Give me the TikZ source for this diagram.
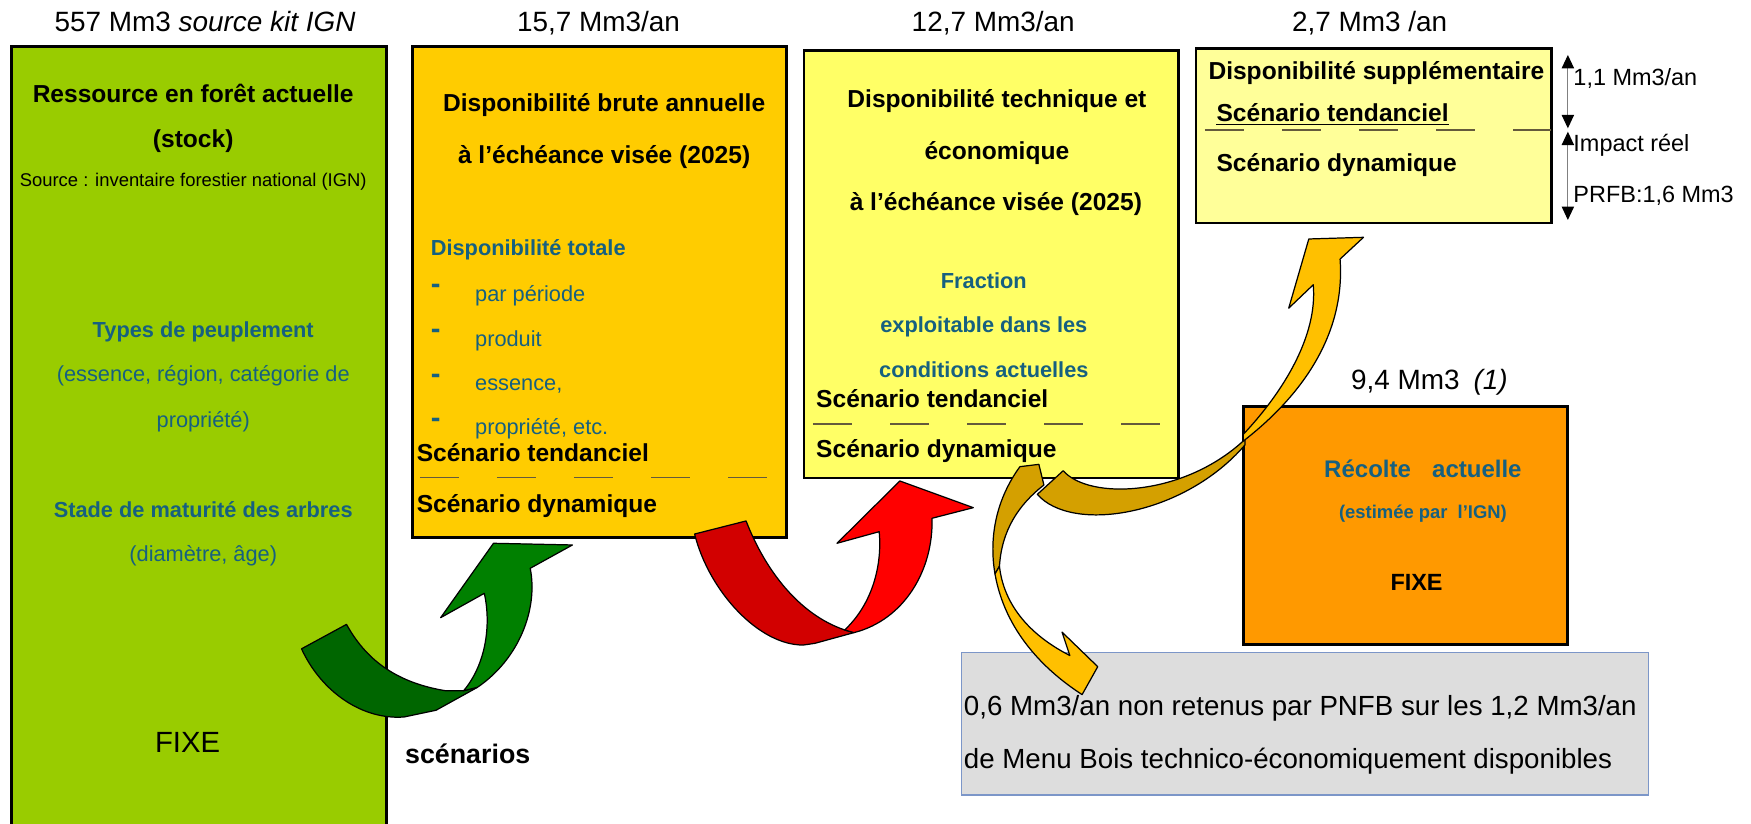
\documentclass[tikz,border=0pt]{standalone}
\usepackage{fontspec}
\setmainfont{Liberation Sans}
\usetikzlibrary{arrows.meta}
\definecolor{teal1}{RGB}{22,96,128}
\definecolor{gfill}{RGB}{153,204,0}
\definecolor{ofill}{RGB}{255,204,0}
\definecolor{yfill}{RGB}{255,255,102}
\definecolor{lyfill}{RGB}{255,255,153}
\definecolor{o2fill}{RGB}{255,153,0}
\definecolor{grayfill}{RGB}{221,221,221}
\definecolor{grayborder}{RGB}{124,150,200}
\definecolor{dkgreen}{RGB}{0,102,0}
\definecolor{brgreen}{RGB}{0,128,0}
\definecolor{dkred}{RGB}{210,0,0}
\definecolor{brred}{RGB}{255,0,0}
\definecolor{dkgold}{RGB}{212,160,0}
\definecolor{brgold}{RGB}{255,192,0}
\definecolor{dashcol}{RGB}{100,90,60}
\newcommand{\fsz}[1]{\fontsize{#1}{#1}\selectfont}
\begin{document}
\begin{tikzpicture}[x=1pt,y=-1pt,
  box/.style={draw=black,line width=2.6pt},
  toplbl/.style={inner sep=0pt,anchor=base,font=\fsz{25}},
  head/.style={inner sep=0pt,anchor=base,font=\bfseries\fsz{22}},
  sub/.style={inner sep=0pt,anchor=base,font=\fsz{19.5},text=teal1},
  subb/.style={inner sep=0pt,anchor=base,font=\bfseries\fsz{19.5},text=teal1},
  scen/.style={inner sep=0pt,anchor=base west,font=\bfseries\fsz{22}},
  bul/.style={inner sep=0pt,anchor=base west,font=\bfseries\fsz{26},text=teal1},
  item/.style={inner sep=0pt,anchor=base west,font=\fsz{19.5},text=teal1},
  rlbl/.style={inner sep=0pt,anchor=base west,font=\fsz{21}},
  graytxt/.style={inner sep=0pt,anchor=base west,font=\fsz{24.8}},
  sepline/.style={draw=dashcol,line width=1.5pt,dash pattern=on 35pt off 34pt},
  dim/.style={draw=gray,line width=1pt,{Triangle[length=12pt,width=11pt,color=black]}-{Triangle[length=12pt,width=11pt,color=black]}},
  arr/.style={draw=black,line width=1.1pt,line join=round}]
\useasboundingbox (0,0) rectangle (1568,737);
\clip (0,0) rectangle (1568,737);

% boxes
\draw[box,fill=gfill] (10.4,41.8) rectangle (346.5,760);
\draw[box,fill=ofill] (369,42) rectangle (704.5,481);
\draw[box,fill=yfill] (720,45.4) rectangle (1055.7,428);
\draw[box,fill=lyfill] (1071,43.3) rectangle (1389,199.7);
\draw[box,fill=o2fill] (1113.5,364) rectangle (1404,577);
\draw[fill=grayfill,draw=grayborder,line width=1.2pt] (861,584.5) rectangle (1476,712);

% top labels
\node[toplbl] (lab1) at (183.6,28.4) {557 Mm3 \textit{source kit IGN}};
\node[toplbl] (lab2) at (536,28.1) {15,7 Mm3/an};
\node[toplbl] (lab3) at (889.4,27.8) {12,7 Mm3/an};
\node[toplbl] (lab4) at (1226.5,27.8) {2,7 Mm3 /an};
\node[toplbl] (lab5) at (1280,348.6) {9,4 Mm3\hspace{12.5pt}\textit{(1)}};

% green box
\node[head] (g1) at (173,92) {Ressource en forêt actuelle};
\node[head] (g2) at (173,132) {(stock)};
\node[inner sep=0pt,anchor=base,font=\fsz{16.5}] (g3) at (173,167) {Source : inventaire forestier national (IGN)};
\node[subb] (g4) at (182,302) {Types de peuplement};
\node[sub] (g5) at (182,342) {(essence, région, catégorie de};
\node[sub] (g6) at (182,382.6) {propriété)};
\node[subb] (g7) at (182,463.5) {Stade de maturité des arbres};
\node[sub] (g8) at (182,503) {(diamètre, âge)};
\node[inner sep=0pt,anchor=base,font=\fsz{26.2}] (g9) at (168,674) {FIXE};

% orange box
\node[head] (o1) at (541,100) {Disponibilité brute annuelle};
\node[head] (o2) at (541,146) {à l’échéance visée (2025)};
\node[subb,anchor=base west] (o3) at (385.6,229) {Disponibilité totale};
\node[bul] (b1) at (385.6,263) {-};
\node[bul] (b2) at (385.6,303) {-};
\node[bul] (b3) at (385.6,343) {-};
\node[bul] (b4) at (385.6,383) {-};
\node[item] (i1) at (425.3,270.2) {par période};
\node[item] (i2) at (425.3,310.2) {produit};
\node[item] (i3) at (425.3,350.1) {essence,};
\node[item] (i4) at (425.3,389.5) {propriété, etc.};
\node[scen] (o4) at (373,413) {Scénario tendanciel};
\draw[sepline] (376,427.6) -- (688,427.6);
\node[scen] (o5) at (373,458.5) {Scénario dynamique};

% yellow box
\node[head] (y1) at (892.7,96.7) {Disponibilité technique et};
\node[head] (y2) at (892.7,142.4) {économique};
\node[head] (y3) at (891.8,188.9) {à l’échéance visée (2025)};
\node[subb] (y4) at (881,257.9) {Fraction};
\node[subb] (y5) at (881,297.3) {exploitable dans les};
\node[subb] (y6) at (881,337.6) {conditions actuelles};
\node[scen] (y7) at (730.7,365.3) {Scénario tendanciel};
\draw[sepline] (728,379.7) -- (1040,379.7);
\node[scen] (y8) at (730.7,410.1) {Scénario dynamique};

% light yellow box
\node[scen] (l1) at (1082,71.6) {Disponibilité supplémentaire};
\node[scen] (l2) at (1089.2,109) {Scénario tendanciel};
\draw[line width=1pt] ([yshift=-2.5pt]l2.base west) -- ([yshift=-2.5pt]l2.base east);
\draw[sepline] (1079,116.4) -- (1389,116.4);
\node[scen] (l3) at (1089.2,153.7) {Scénario dynamique};

% dimension arrows
\coordinate (d1) at (1404,49.2);
\coordinate (d2) at (1404,114.9);
\coordinate (d3) at (1404,117.9);
\coordinate (d4) at (1404,197);
\draw[dim] (d1) -- (d2);
\draw[dim] (d3) -- (d4);
\node[rlbl] (r1) at (1408.8,77) {1,1 Mm3/an};
\node[rlbl] (r2) at (1408.8,135.8) {Impact réel};
\node[rlbl] (r3) at (1408.8,181.2) {PRFB:1,6 Mm3};

% orange 2 box
\node[subb,font=\bfseries\fsz{21.5}] (c1) at (1274.2,427.4) {Récolte\hspace{19pt}actuelle};
\node[subb,font=\bfseries\fsz{16.5}] (c2) at (1274.2,464) {(estimée par\hspace{9pt}l’IGN)};
\node[inner sep=0pt,anchor=base,font=\bfseries\fsz{21}] (c3) at (1268.5,529) {FIXE};

% gray box
\node[graytxt] (t1) at (863,641) {0,6 Mm3/an non retenus par PNFB sur les 1,2 Mm3/an};
\node[graytxt] (t2) at (863,688) {de Menu Bois technico-économiquement disponibles};

\node[inner sep=0pt,anchor=base west,font=\bfseries\fsz{24}] (sc) at (362.6,684) {scénarios};

% green arrow
\filldraw[arr,fill=dkgreen] (270,581) .. controls (288,620) and (325,645) .. (362,642) -- (390.5,636) -- (427.5,615.5) -- (415.2,618.5) -- (398.7,618.5) .. controls (360,612) and (330,595) .. (310.3,559.1) -- cycle;
\filldraw[arr,fill=brgreen] (415.2,618.5) .. controls (435,595) and (440,560) .. (433.7,531.3) -- (394.6,553.1) -- (441.9,486.5) -- (512.6,488) -- (474.8,508.9) .. controls (482,545) and (465,590) .. (427.5,615.5) -- cycle;

% red arrow
\filldraw[arr,fill=dkred] (622,478.2) .. controls (635,530) and (680,578) .. (719.4,577.6) -- (729.7,576.1) -- (764.7,566.5) -- (756.4,564.1) .. controls (715,550) and (685,510) .. (668.1,466.5) -- cycle;
\filldraw[arr,fill=brred] (756.4,564.1) .. controls (782,540) and (790,505) .. (787.3,476.1) -- (749.5,486.5) -- (805.8,430.7) -- (871.6,454.6) -- (834.6,464.1) .. controls (836,510) and (810,555) .. (764.7,566.5) -- cycle;

% gold arrow down
\filldraw[arr,fill=dkgold] (913.3,417.9) -- (930.3,415.8) -- (934.8,434.3) .. controls (912,452) and (897,475) .. (895,507) -- (891,514) .. controls (886,485) and (890,450) .. (913.3,417.9) -- cycle;
\filldraw[arr,fill=brgold] (895,507) .. controls (898,535) and (915,565) .. (958,587) -- (951,566) -- (983,597) -- (969,622) .. controls (935,600) and (900,565) .. (891,514) -- cycle;

% gold arrow up
\filldraw[arr,fill=dkgold] (928.9,442.7) .. controls (960,478) and (1060,462) .. (1114.8,398.5) -- (1114.8,393.5) .. controls (1060,445) and (975,448) .. (952.1,421.5) -- cycle;
\filldraw[arr,fill=brgold] (1113.3,395) .. controls (1165,355) and (1205,300) .. (1200,232) -- (1221,212.5) -- (1172,214) -- (1154,276) -- (1176,255) .. controls (1180,300) and (1150,350) .. (1113.3,389) -- cycle;
\end{tikzpicture}
\end{document}
